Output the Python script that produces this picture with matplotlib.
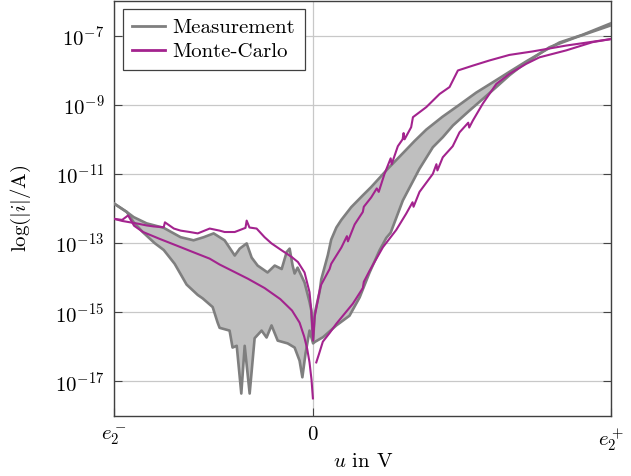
import numpy as np
import matplotlib
matplotlib.use("Agg")
import matplotlib.pyplot as plt
from matplotlib.ticker import NullLocator, LogFormatterMathtext

plt.rcParams['font.family'] = 'serif'
plt.rcParams['font.serif'] = ['cmr10']
plt.rcParams['mathtext.fontset'] = 'cm'
plt.rcParams['axes.formatter.use_mathtext'] = True
plt.rcParams['font.size'] = 15

# voltage axis: e2- = -1, e2+ = 1.5 ; currents stored as log10(|i|/A)
meas_hi_u = [-1.0, -0.937, -0.902, -0.837, -0.751, -0.666, -0.601, -0.550, -0.500, -0.445,
             -0.394, -0.369, -0.334, -0.309, -0.279, -0.229, -0.193, -0.158, -0.133, -0.118,
             -0.103, -0.093, -0.078, -0.043, -0.018, -0.009, 0.0, 0.008, 0.033, 0.041,
             0.074, 0.091, 0.117, 0.142, 0.192, 0.25, 0.292, 0.376, 0.46, 0.51,
             0.569, 0.65, 0.736, 0.82, 0.904, 0.987, 1.071, 1.16, 1.239, 1.354, 1.5]
meas_hi = [-11.86, -12.10, -12.25, -12.43, -12.56, -12.83, -12.92, -12.83, -12.72, -12.92,
           -13.36, -13.16, -13.01, -13.42, -13.65, -13.85, -13.65, -13.75, -13.26, -13.16,
           -13.65, -13.88, -13.71, -14.14, -14.70, -14.95, -15.85, -15.04, -14.40, -14.05,
           -13.35, -12.90, -12.55, -12.33, -11.96, -11.62, -11.38, -10.85, -10.35, -10.05,
           -9.72, -9.35, -9.0, -8.65, -8.35, -8.05, -7.75, -7.45, -7.2, -6.98, -6.64]

meas_lo_u = [-1.0, -0.937, -0.902, -0.857, -0.797, -0.751, -0.696, -0.636, -0.580, -0.555,
             -0.505, -0.480, -0.470, -0.420, -0.405, -0.384, -0.361, -0.344, -0.319, -0.294,
             -0.259, -0.234, -0.209, -0.178, -0.128, -0.093, -0.068, -0.054, -0.038, -0.018,
             0.0, 0.008, 0.05, 0.117, 0.183, 0.234, 0.284, 0.334, 0.368, 0.39,
             0.451, 0.535, 0.602, 0.652, 0.703, 0.786, 0.86, 0.921, 0.987, 1.054,
             1.188, 1.323, 1.5]
meas_lo = [-11.86, -12.10, -12.40, -12.68, -13.0, -13.2, -13.6, -14.2, -14.5, -14.6,
           -14.85, -15.3, -15.45, -15.53, -16.02, -15.97, -17.35, -15.97, -17.35, -15.75,
           -15.53, -15.73, -15.38, -15.82, -15.90, -16.02, -16.4, -16.88, -16.19, -15.53,
           -15.90, -15.86, -15.72, -15.38, -15.10, -14.57, -13.85, -13.21, -12.85, -12.7,
           -11.77, -10.85, -10.23, -9.94, -9.6, -9.17, -8.8, -8.49, -8.15, -7.85,
           -7.34, -7.05, -6.70]

mc_hi_u = [-1.0, -0.96, -0.92, -0.88, -0.837, -0.80, -0.751, -0.745, -0.70, -0.666,
           -0.62, -0.58, -0.52, -0.47, -0.445, -0.394, -0.34, -0.334, -0.32, -0.284,
           -0.244, -0.209, -0.158, -0.108, -0.076, -0.043, -0.018, -0.009, 0.0, 0.008,
           0.033, 0.041, 0.083, 0.091, 0.142, 0.17, 0.175, 0.209, 0.25, 0.255,
           0.292, 0.32, 0.33, 0.359, 0.39, 0.395, 0.426, 0.45, 0.455, 0.46,
           0.493, 0.502, 0.569, 0.636, 0.686, 0.728, 0.803, 0.887, 0.987, 1.103,
           1.272, 1.5]
mc_hi = [-12.30, -12.36, -12.40, -12.44, -12.49, -12.52, -12.54, -12.40, -12.58, -12.64,
         -12.68, -12.72, -12.58, -12.64, -12.68, -12.68, -12.56, -12.35, -12.55, -12.58,
         -12.83, -13.01, -13.21, -13.40, -13.55, -13.85, -14.42, -14.95, -15.82, -15.13,
         -14.37, -14.2, -13.75, -13.6, -13.13, -12.80, -12.95, -12.46, -12.10, -11.95,
         -11.68, -11.42, -11.52, -11.0, -10.55, -10.72, -10.2, -10.0, -9.82, -10.0,
         -9.65, -9.36, -9.07, -8.69, -8.49, -8.01, -7.87, -7.72, -7.56, -7.46,
         -7.29, -7.10]

mc_lo_left_u = [-1.0, -0.96, -0.93, -0.90, -0.855, -0.771, -0.687, -0.604, -0.52, -0.47,
                -0.411, -0.328, -0.244, -0.165, -0.106, -0.068, -0.045, -0.030, -0.018,
                -0.008, -0.001]
mc_lo_left = [-12.30, -12.33, -12.20, -12.50, -12.68, -12.88, -13.07, -13.26, -13.45, -13.62,
              -13.79, -14.03, -14.30, -14.62, -14.95, -15.30, -15.70, -16.05, -16.45,
              -16.95, -17.49]

mc_lo_right_u = [0.016, 0.03, 0.049, 0.083, 0.117, 0.2, 0.25, 0.255, 0.284, 0.351,
                 0.418, 0.468, 0.5, 0.505, 0.535, 0.602, 0.62, 0.625, 0.652, 0.702,
                 0.736, 0.78, 0.785, 0.803, 0.853, 0.921, 0.987, 1.071, 1.138, 1.272,
                 1.406, 1.5]
mc_lo_right = [-16.45, -16.2, -15.85, -15.60, -15.33, -14.75, -14.30, -14.12, -13.80, -13.12,
               -12.62, -12.15, -11.82, -11.95, -11.52, -11.0, -10.72, -10.90, -10.52, -10.2,
               -9.80, -9.52, -9.66, -9.46, -8.97, -8.40, -8.11, -7.82, -7.63, -7.43,
               -7.19, -7.10]

yticks_exp = [-17, -15, -13, -11, -9, -7]
xticks = [-1.0, 0.0, 1.5]
xticklabels = [r'$e_2^-$', r'$0$', r'$e_2^+$']

gray_line = '#7f7f7f'
gray_fill = '#bfbfbf'
magenta = '#a3238e'

fig = plt.figure(figsize=(6.31, 4.76), dpi=100)
ax = fig.add_axes([0.181, 0.126, 0.788, 0.872])

# measurement band: interpolate both edges onto a common grid for the fill
grid_u = np.union1d(meas_hi_u, meas_lo_u)
hi_g = np.interp(grid_u, meas_hi_u, meas_hi)
lo_g = np.interp(grid_u, meas_lo_u, meas_lo)
ax.fill_between(grid_u, 10.0 ** lo_g, 10.0 ** hi_g, color=gray_fill, lw=0, zorder=2)
ax.plot(meas_hi_u, 10.0 ** np.array(meas_hi), color=gray_line, lw=1.9, zorder=3,
        label='Measurement')
ax.plot(meas_lo_u, 10.0 ** np.array(meas_lo), color=gray_line, lw=1.9, zorder=3)

ax.plot(mc_hi_u, 10.0 ** np.array(mc_hi), color=magenta, lw=1.5, zorder=4, label='Monte-Carlo')
ax.plot(mc_lo_left_u, 10.0 ** np.array(mc_lo_left), color=magenta, lw=1.5, zorder=4)
ax.plot(mc_lo_right_u, 10.0 ** np.array(mc_lo_right), color=magenta, lw=1.5, zorder=4)

ax.set_yscale('log')
ax.set_xlim(-1.0, 1.5)
ax.set_ylim(1e-18, 1e-6)
ax.set_yticks([10.0 ** e for e in yticks_exp])
ax.yaxis.set_major_formatter(LogFormatterMathtext())
ax.yaxis.set_minor_locator(NullLocator())
ax.set_xticks(xticks)
ax.set_xticklabels(xticklabels)
ax.tick_params(direction='in', length=6, width=0.8, color='#444444', right=True, top=False,
               pad=7, labelsize=15)
ax.grid(True, color='#c8c8c8', lw=0.9, zorder=0)
ax.set_axisbelow(True)
for s in ax.spines.values():
    s.set_color('#404040')
    s.set_linewidth(1.0)

ax.set_xlabel(r'$u$ in V', fontsize=15, labelpad=0)
ax.set_ylabel(r'$\log(|i|/\mathrm{A})$', fontsize=15, labelpad=16)

leg = ax.legend(loc='upper left', fancybox=False, edgecolor='#404040', framealpha=1,
                fontsize=15, handlelength=1.6, borderpad=0.45, labelspacing=0.25,
                handletextpad=0.35, borderaxespad=0.4)
leg.get_frame().set_linewidth(0.9)
for line in leg.get_lines():
    line.set_linewidth(2.0)

fig.savefig('out.png', dpi=100)
